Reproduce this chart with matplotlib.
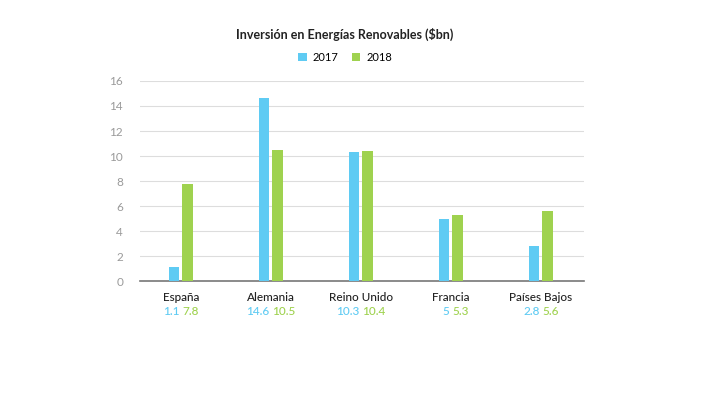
import numpy as np
import matplotlib.pyplot as plt

plt.rcParams['font.family'] = ['Lato', 'DejaVu Sans']

countries = ["España", "Alemania", "Reino Unido", "Francia", "Países Bajos"]
v2017 = [1.1, 14.6, 10.3, 5, 2.8]
v2018 = [7.8, 10.5, 10.4, 5.3, 5.6]
lab2017 = ["1.1", "14.6", "10.3", "5", "2.8"]
lab2018 = ["7.8", "10.5", "10.4", "5.3", "5.6"]

blue = "#5fcbf3"
green = "#9fd24f"

fig = plt.figure(figsize=(7.2, 3.97), dpi=100)
ax = fig.add_axes([0.194, 0.292, 0.617, 0.504])

x = np.arange(len(countries))
w = 0.12
ax.bar(x - 0.075, v2017, w, color=blue, label="2017", zorder=3)
ax.bar(x + 0.075, v2018, w, color=green, label="2018", zorder=3)

ax.set_ylim(0, 16)
ax.set_xlim(-0.456, 4.48)
ax.set_yticks(range(0, 17, 2))
ax.tick_params(axis='y', length=0, labelsize=8.5, labelcolor="#9a9a9a", pad=12)
ax.tick_params(axis='x', length=0, labelsize=8.5, pad=8)
ax.set_xticks(x)
ax.set_xticklabels(countries, color="#222222", fontweight='medium')
ax.grid(axis='y', color="#dddddd", linewidth=0.8, zorder=0)
for s in ["top", "right", "left"]:
    ax.spines[s].set_visible(False)
ax.spines["bottom"].set_color("#777777")
ax.spines["bottom"].set_linewidth(1.2)

# colored value labels under category names
for i in range(len(countries)):
    ax.annotate(lab2017[i], xy=(x[i], 0), xycoords='data', xytext=(-1, -22),
                textcoords='offset points', ha='right', va='center',
                color=blue, fontsize=8.5, fontweight='medium')
    ax.annotate(lab2018[i], xy=(x[i], 0), xycoords='data', xytext=(1, -22),
                textcoords='offset points', ha='left', va='center',
                color=green, fontsize=8.5, fontweight='medium')

fig.text(0.479, 0.912, "Inversión en Energías Renovables ($bn)", ha='center',
         va='center', fontsize=9, fontweight='bold', color="#222222")
fig.legend(loc='center', bbox_to_anchor=(0.479, 0.855), ncol=2, frameon=False,
           fontsize=8, handlelength=0.8, handleheight=0.8, columnspacing=1.2,
           handletextpad=0.5)

fig.savefig("out.png", dpi=100)
